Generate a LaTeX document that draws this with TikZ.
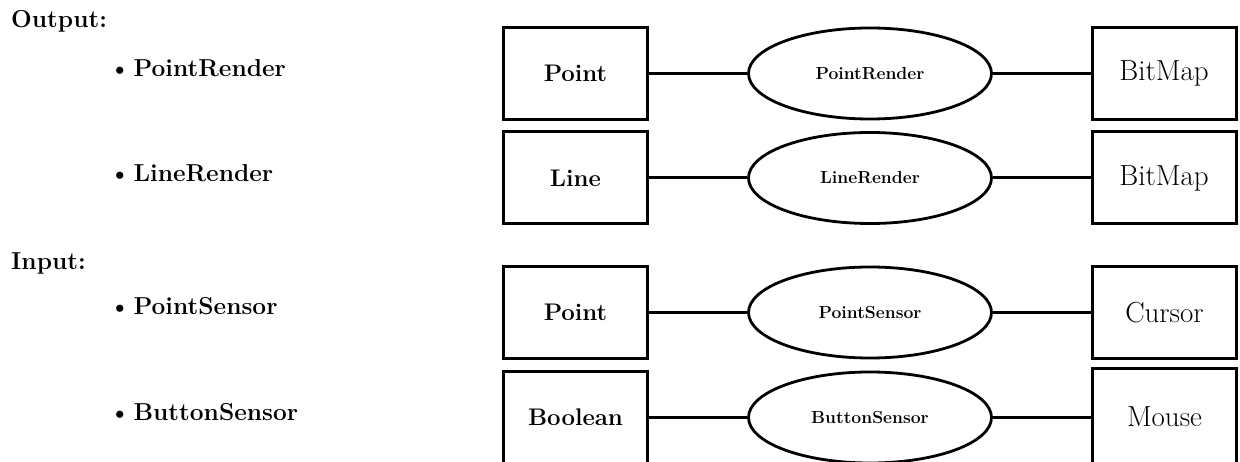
\documentclass[tikz,border=0pt]{standalone}
\usepackage{fontspec}
\usetikzlibrary{shapes.geometric}
\begin{document}
\begin{tikzpicture}[x=1pt,y=-1pt,
  bigbf/.style={font=\fontsize{24.5}{29}\selectfont\bfseries},
  heading/.style={bigbf, anchor=base west, inner sep=0pt},
  item/.style={bigbf, anchor=base west, inner sep=0pt},
  typebox/.style={draw, line width=3pt, minimum width=144pt, minimum height=92pt, inner sep=0pt},
  infont/.style={font=\fontsize{24}{28}\selectfont\bfseries},
  outfont/.style={font=\fontsize{29}{34}\selectfont},
  intype/.style={typebox, infont},
  outtype/.style={typebox, outfont},
  opnode/.style={draw, ellipse, line width=2.8pt, minimum width=243pt, minimum height=91pt,
    inner sep=0pt, font=\fontsize{17.5}{21}\selectfont\bfseries},
  link/.style={line width=3pt}]
\useasboundingbox (0,0) rectangle (1240,462);
\clip (0,0) rectangle (1240,462);

% operation list
\node[heading] (hout) at (11,28) {Output:};
\node[item] (iprender) at (109,77) {\textbullet\hspace{0.12em}PointRender};
\node[item] (ilrender) at (109,182) {\textbullet\hspace{0.12em}LineRender};
\node[heading] (hin) at (11,270) {Input:};
\node[item] (ipsensor) at (109,315) {\textbullet\hspace{0.12em}PointSensor};
\node[item] (ibsensor) at (109,420) {\textbullet\hspace{0.12em}ButtonSensor};

% row 1: PointRender
\node[intype] (a1) at (575.5,73.5) {Point};
\node[opnode] (e1) at (870,73.5) {PointRender};
\node[outtype] (b1) at (1164,73.5) {BitMap};
% row 2: LineRender
\node[intype] (a2) at (575.5,178) {Line};
\node[opnode] (e2) at (870,178) {LineRender};
\node[outtype] (b2) at (1164,178) {BitMap};
% row 3: PointSensor
\node[intype] (a3) at (575.5,312.5) {Point};
\node[opnode] (e3) at (870,312.5) {PointSensor};
\node[outtype] (b3) at (1164.5,312.5) {Cursor};
% row 4: ButtonSensor (boxes run off the lower edge)
\node[typebox, minimum height=104pt] (a4) at (575.5,424) {};
\node[infont] (a4t) at (575.5,417.5) {Boolean};
\node[opnode] (e4) at (870,417.5) {ButtonSensor};
\node[typebox, minimum height=104pt] (b4) at (1164.5,421) {};
\node[outfont] (b4t) at (1164.5,417) {Mouse};

\foreach \r in {1,2,3} {
  \draw[link] (a\r.east) -- (e\r.west);
  \draw[link] (e\r.east) -- (b\r.west);
}
\draw[link] (a4.east |- e4.west) -- (e4.west);
\draw[link] (e4.east) -- (b4.west |- e4.east);
\end{tikzpicture}
\end{document}
